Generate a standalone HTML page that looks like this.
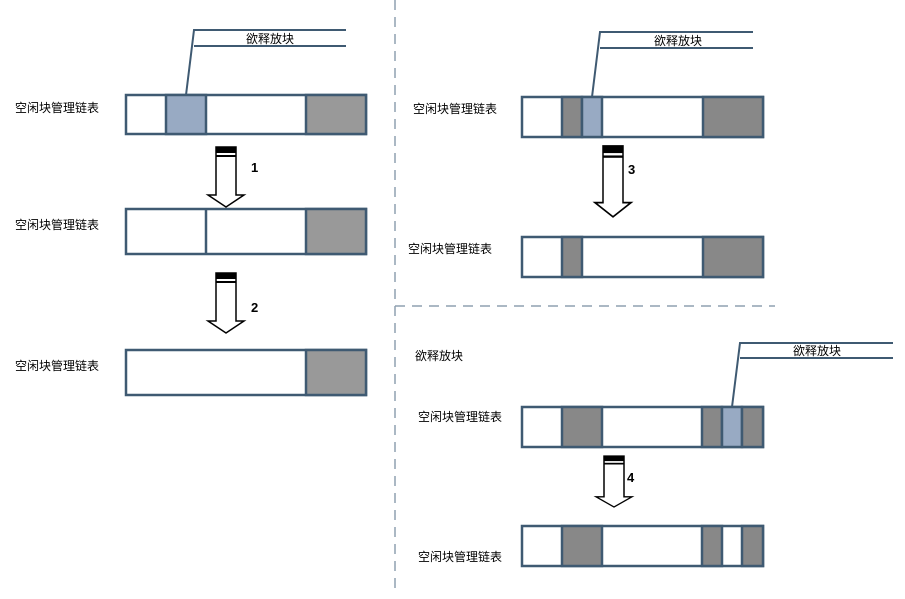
<!DOCTYPE html>
<html><head><meta charset="utf-8"><style>
body{margin:0;background:#fff}
text{font-family:"Liberation Sans","Noto Sans CJK SC",sans-serif;font-size:12px;fill:#000}
.b{font-weight:bold;font-size:13px}
</style></head><body>
<svg width="905" height="594" xmlns="http://www.w3.org/2000/svg">
<defs>
<g id="arr">
<path d="M0,0 H20 V48 H28 L10,60 L-8,48 H0 Z" fill="#fff" stroke="#000" stroke-width="1.5"/>
<rect x="0" y="0" width="20" height="6" fill="#000"/>
<rect x="0" y="8" width="20" height="2" fill="#000"/>
</g>
</defs>
<!-- dashed lines -->
<line x1="395" y1="0" x2="395" y2="594" stroke="#8fa0b0" stroke-width="1.5" stroke-dasharray="10,7"/>
<line x1="395" y1="306" x2="775" y2="306" stroke="#8fa0b0" stroke-width="1.5" stroke-dasharray="10,7"/>
<g stroke="#3f5a72" stroke-width="2.5">
<!-- left bar1 -->
<rect x="126" y="95" width="240" height="39" fill="#fff"/>
<rect x="166" y="95" width="40" height="39" fill="#98aac3"/>
<rect x="306" y="95" width="60" height="39" fill="#999"/>
<!-- left bar2 -->
<rect x="126" y="209" width="240" height="45" fill="#fff"/>
<line x1="206" y1="209" x2="206" y2="254"/>
<rect x="306" y="209" width="60" height="45" fill="#999"/>
<!-- left bar3 -->
<rect x="126" y="350" width="240" height="45" fill="#fff"/>
<rect x="306" y="350" width="60" height="45" fill="#999"/>
<!-- right A -->
<rect x="522" y="97" width="241" height="40" fill="#fff"/>
<rect x="562" y="97" width="20" height="40" fill="#888"/>
<rect x="582" y="97" width="20" height="40" fill="#98aac3"/>
<rect x="703" y="97" width="60" height="40" fill="#888"/>
<!-- right B -->
<rect x="522" y="237" width="241" height="40" fill="#fff"/>
<rect x="562" y="237" width="20" height="40" fill="#888"/>
<rect x="703" y="237" width="60" height="40" fill="#888"/>
<!-- right C -->
<rect x="522" y="407" width="241" height="40" fill="#fff"/>
<rect x="562" y="407" width="40" height="40" fill="#888"/>
<rect x="702" y="407" width="20" height="40" fill="#888"/>
<rect x="722" y="407" width="20" height="40" fill="#98aac3"/>
<rect x="742" y="407" width="21" height="40" fill="#888"/>
<!-- right D -->
<rect x="522" y="526" width="241" height="40" fill="#fff"/>
<rect x="562" y="526" width="40" height="40" fill="#888"/>
<rect x="702" y="526" width="20" height="40" fill="#888"/>
<rect x="742" y="526" width="21" height="40" fill="#888"/>
</g>
<g stroke="#3f5a72" stroke-width="2" fill="none">
<path d="M186,95 L194,30 H346 M194,46 H346"/>
<path d="M592,97 L600,32 H753 M600,48 H753"/>
<path d="M732,407 L740,343 H893 M740,358 H893"/>
</g>
<text x="270" y="43" text-anchor="middle">欲释放块</text>
<text x="678" y="45" text-anchor="middle">欲释放块</text>
<text x="817" y="355" text-anchor="middle">欲释放块</text>
<text x="415" y="360">欲释放块</text>
<text x="15" y="112">空闲块管理链表</text>
<text x="15" y="229">空闲块管理链表</text>
<text x="15" y="370">空闲块管理链表</text>
<text x="413" y="113">空闲块管理链表</text>
<text x="408" y="253">空闲块管理链表</text>
<text x="418" y="421">空闲块管理链表</text>
<text x="418" y="561">空闲块管理链表</text>
<use href="#arr" transform="translate(216,147)"/>
<use href="#arr" transform="translate(216,273)"/>
<use href="#arr" transform="translate(603,146) scale(1,1.18)"/>
<use href="#arr" transform="translate(604,456) scale(1,0.85)"/>
<text class="b" x="251" y="172">1</text>
<text class="b" x="251" y="312">2</text>
<text class="b" x="628" y="174">3</text>
<text class="b" x="627" y="482">4</text>
</svg>
</body></html>
